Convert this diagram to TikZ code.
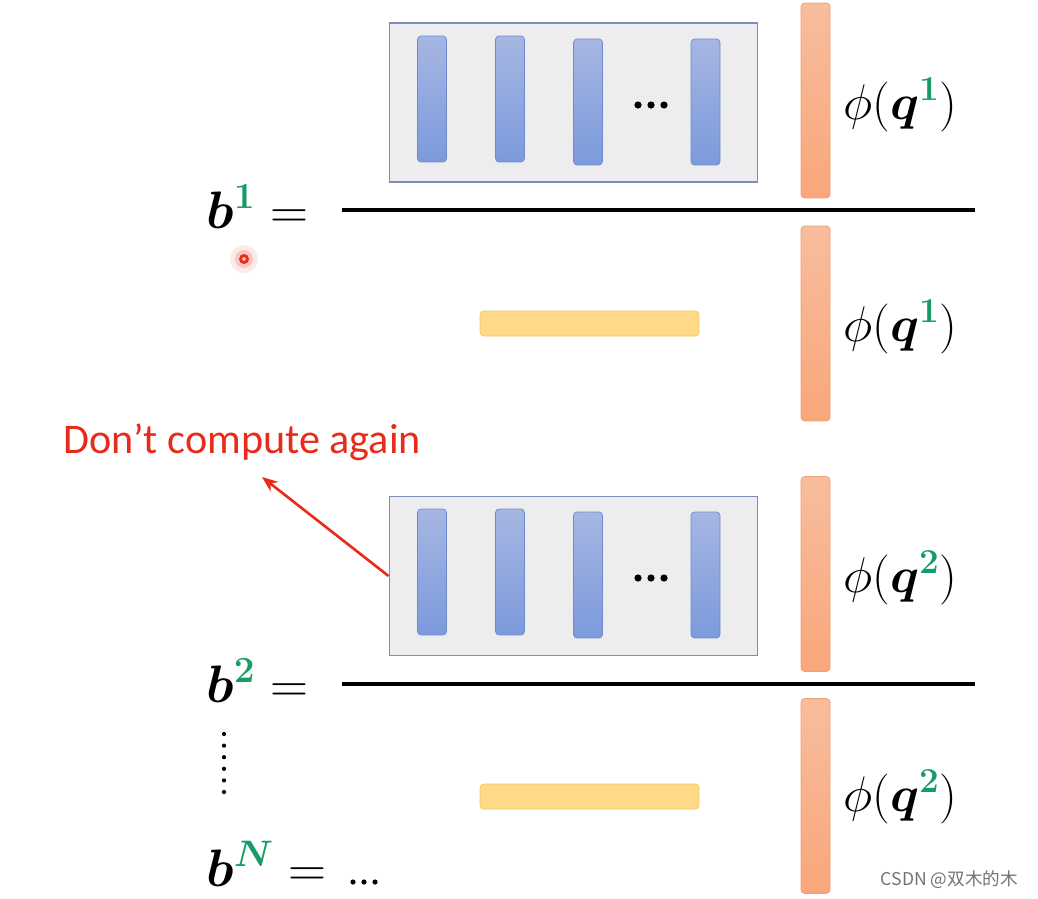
\documentclass[tikz,border=0pt]{standalone}
\usepackage{fix-cm}
\usepackage{amsmath,bm}
\usepackage{fontspec}
\newfontfamily\calfont{Carlito}
\newfontfamily\cjkfont{Noto Sans CJK SC}
\usetikzlibrary{arrows.meta}
\definecolor{boxfill}{RGB}{237,237,240}
\definecolor{boxline}{RGB}{122,142,182}
\definecolor{bluetop}{RGB}{166,182,226}
\definecolor{bluebot}{RGB}{124,154,220}
\definecolor{blueline}{RGB}{108,138,204}
\definecolor{orgtop}{RGB}{248,189,157}
\definecolor{orgbot}{RGB}{249,166,122}
\definecolor{orgline}{RGB}{241,160,118}
\definecolor{yelfill}{RGB}{253,217,136}
\definecolor{yelline}{RGB}{245,200,92}
\definecolor{eqgreen}{RGB}{22,156,102}
\definecolor{notered}{RGB}{232,42,26}
\begin{document}
\begin{tikzpicture}[x=0.02cm, y=-0.02cm,
  encbox/.style={draw=boxline, fill=boxfill, line width=0.6pt, minimum width=7.38cm, minimum height=3.18cm, inner sep=0pt},
  blubar/.style={draw=blueline, top color=bluetop, bottom color=bluebot, rounded corners=2pt, minimum width=0.58cm, minimum height=2.52cm, inner sep=0pt},
  phibar/.style={draw=orgline, top color=orgtop, bottom color=orgbot, rounded corners=2pt, minimum width=0.58cm, minimum height=3.9cm, inner sep=0pt},
  sumbar/.style={draw=yelline, fill=yelfill, rounded corners=2pt, minimum width=4.38cm, minimum height=0.5cm, inner sep=0pt},
  phi/.style={anchor=west, inner sep=0pt, font=\fontsize{28.5}{32}\selectfont},
  lhs/.style={anchor=base west, inner sep=0pt, font=\fontsize{30}{34}\selectfont},
  frac/.style={line width=2.3pt}]
  \useasboundingbox (0,0) rectangle (1038,899);

  % first output
  \node[encbox] (enc1) at (573.5,102.5) {};
  \foreach \x/\d [count=\i] in {432/0,510/0,588/3,705.5/3}
    \node[blubar] (k1\i) at (\x,99+\d) {};
  \foreach \x in {638,651,664} \fill (\x,105) circle (3.6);
  \node[phibar] (p1) at (815.5,100.5) {};
  \node[phi] (f1) at (843,105) {$\phi(\bm{q}^{\textcolor{eqgreen}{\bm{1}}})$};
  \node[lhs] (b1) at (206,228) {$\bm{b}^{\textcolor{eqgreen}{\bm{1}}} =$};
  \draw[frac] (342,210) -- (975,210);
  \node[sumbar] (s1) at (589.5,323.5) {};
  \node[phibar] (p2) at (815.5,323.5) {};
  \node[phi] (f2) at (843,327) {$\phi(\bm{q}^{\textcolor{eqgreen}{\bm{1}}})$};

  % pointer
  \fill[notered, opacity=0.10] (244,259) circle (14);
  \fill[notered, opacity=0.18] (244,259) circle (9);
  \draw[notered, line width=1.6pt] (244,259) circle (3.5);

  % second output
  \node[text=notered, font=\calfont\fontsize{24}{28}\selectfont] (note) at (242,442) {Don’t compute again};
  \coordinate (tip) at (262,477);
  \node[encbox] (enc2) at (573.5,576) {};
  \foreach \x/\d [count=\i] in {432/0,510/0,588/3,705.5/3}
    \node[blubar] (k2\i) at (\x,572+\d) {};
  \foreach \x in {638,651,664} \fill (\x,578) circle (3.6);
  \draw[notered, line width=1.5pt, -{Stealth[length=9pt, width=7pt]}] (enc2.west) -- (tip);
  \node[phibar] (p3) at (815.5,574) {};
  \node[phi] (f3) at (843,578) {$\phi(\bm{q}^{\textcolor{eqgreen}{\bm{2}}})$};
  \node[lhs] (b2) at (206,702) {$\bm{b}^{\textcolor{eqgreen}{\bm{2}}} =$};
  \draw[frac] (342,684) -- (975,684);
  \node[sumbar] (s2) at (589.5,796.5) {};
  \node[phibar] (p4) at (815.5,796) {};
  \node[phi] (f4) at (843,797) {$\phi(\bm{q}^{\textcolor{eqgreen}{\bm{2}}})$};

  % remaining rows
  \foreach \k in {0,...,5} \fill (224,734+\k*11.6) circle (2.1);
  \node[lhs] (bN) at (206,886) {$\bm{b}^{\textcolor{eqgreen}{\bm{N}}} =$};
  \foreach \x in {353,364,375} \fill (\x,882) circle (2.6);

  \node[anchor=east, text=black!55, font=\cjkfont\fontsize{10}{12}\selectfont] (mark) at (1024,880) {CSDN @双木的木};
\end{tikzpicture}
\end{document}
